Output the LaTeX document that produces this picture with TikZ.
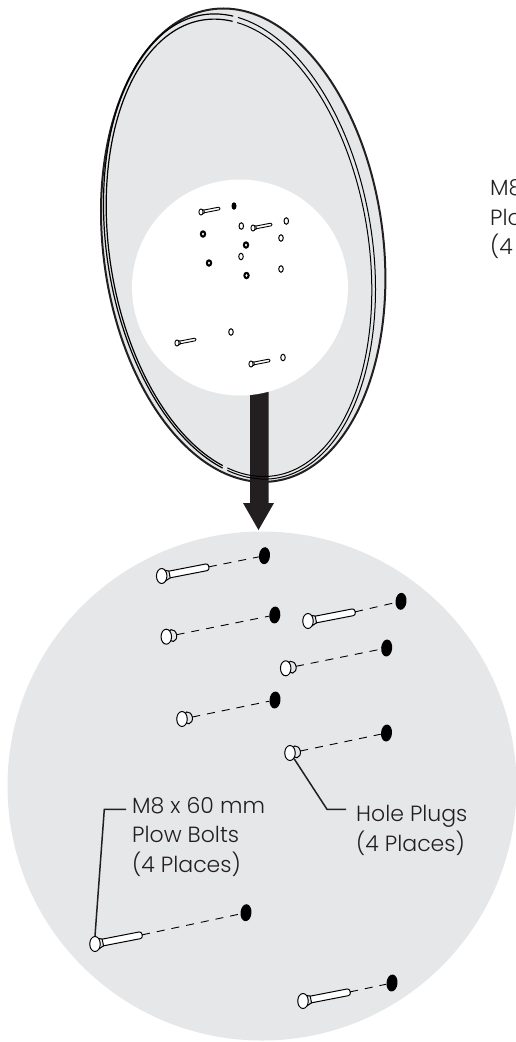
\documentclass[tikz,border=0pt]{standalone}
\usepackage{fontspec}
\setmainfont{Poppins Light}
\usetikzlibrary{shapes.geometric}
\definecolor{ink}{HTML}{231F20}
\definecolor{pale}{HTML}{E6E7E8}
\tikzset{
  lbl/.style={text=ink,font=\fontsize{22}{29.5}\selectfont,align=left,anchor=north west,inner sep=0pt},
  leader/.style={draw=ink,line width=1.5pt},
  dashline/.style={draw=black,line width=0.9pt,dash pattern=on 8pt off 7pt},
  rimline/.style={draw=black,line width=1pt},
  rimheavy/.style={draw=black,line width=1.2pt},
  dotn/.style={shape=ellipse,fill=black,draw=none,inner sep=0pt,minimum width=11pt,minimum height=17pt,rotate=-5},
  headn/.style={shape=ellipse,fill=white,draw=black,line width=1pt,inner sep=0pt,minimum width=10.5pt,minimum height=15pt},
  openn/.style={shape=ellipse,fill=white,draw=black,line width=1pt,inner sep=0pt,minimum width=4.5pt,minimum height=6.5pt},
  ringn/.style={shape=ellipse,fill=black,draw=none,inner sep=0pt,minimum width=6.5pt,minimum height=7.5pt},
}
% name, x, y
\newcommand{\RingItem}[3]{%
  \node[ringn] (#1) at (#2,#3) {};
  \fill[white] (#1) ellipse [x radius=1.1pt,y radius=1.5pt];}
% name, x, y, scale, line width
\newcommand{\BoltItem}[5]{%
  \begin{scope}[shift={(#2,#3)},rotate=11,x=#4pt,y=#4pt]
    \filldraw[fill=white,draw=black,line width=#5pt,rounded corners=#4*2.5pt] (4,3.4) -- (48,3.4) -- (48,-3.4) -- (4,-3.4) -- cycle;
    \filldraw[fill=pale,draw=black,line width=#5pt] (3,5.5) -- (8,3.4) -- (8,-3.4) -- (3,-5.5) -- cycle;
    \node[shape=ellipse,fill=white,draw=black,line width=#5pt,inner sep=0pt,minimum width=#4*10.5pt,minimum height=#4*15pt] (#1) at (0,0) {};
    \coordinate (#1tip) at (48,0);
  \end{scope}}
% name, x, y
\newcommand{\PlugItem}[3]{%
  \begin{scope}[shift={(#2,#3)},rotate=11,x=1pt,y=1pt]
    \filldraw[fill=pale,draw=black,line width=1pt] (6,0) ellipse [x radius=4.5pt,y radius=6pt];
    \node[headn] (#1) at (0,0) {};
    \coordinate (#1tip) at (10.5,0);
  \end{scope}}
\begin{document}
\begin{tikzpicture}[x=1pt,y=-1pt]
\useasboundingbox (0,0) rectangle (516,1042);
\clip (0,0) rectangle (516,1042);
% dish face
\begin{scope}[shift={(243.2,245.2)},rotate=7.4,x=1pt,y=1pt]
  \fill[pale] (0,0) ellipse [x radius=140pt,y radius=238pt];
\end{scope}
% arrow
\fill[ink] (250,385) -- (268.5,385) -- (268.5,503) -- (274,503) -- (258.5,530) -- (243,503) -- (250,503) -- cycle;
% dish outlines
\begin{scope}[shift={(243.2,245.2)},rotate=7.4,x=1pt,y=1pt]
  \draw[draw=ink,line width=2pt] (0,0) ellipse [x radius=140pt,y radius=238pt];
\end{scope}
\begin{scope}[shift={(239.5,246.5)},rotate=9,x=1pt,y=1pt]
  \draw[rimheavy] ({132.6*cos(77)},{234.5*sin(77)}) arc [start angle=77,end angle=247.2,x radius=132.6pt,y radius=234.5pt];
  \draw[rimline] ({132.6*cos(249.2)},{234.5*sin(249.2)}) arc [start angle=249.2,end angle=435,x radius=132.6pt,y radius=234.5pt];
\end{scope}
\begin{scope}[shift={(239,247.8)},rotate=9,x=1pt,y=1pt]
  \draw[rimheavy] ({129.4*cos(77)},{230.6*sin(77)}) arc [start angle=77,end angle=247.2,x radius=129.4pt,y radius=230.6pt];
  \draw[rimline] ({129.4*cos(249.2)},{230.6*sin(249.2)}) arc [start angle=249.2,end angle=435,x radius=129.4pt,y radius=230.6pt];
\end{scope}
% mounting window
\fill[white] (240,287.5) circle [radius=108pt];
% small hardware
\BoltItem{sa}{201}{212}{0.4}{0.9}
\BoltItem{sb}{253}{228}{0.4}{0.9}
\BoltItem{sc}{177}{343}{0.4}{0.9}
\BoltItem{sd}{251}{364}{0.4}{0.9}
\node[shape=ellipse,fill=black,inner sep=0pt,minimum width=5pt,minimum height=7.5pt] (ka) at (234,206) {};
\RingItem{ra}{203}{234}
\RingItem{rb}{246}{245}
\RingItem{rc}{209}{263}
\RingItem{rd}{246.5}{275.5}
\node[openn] (oa) at (241.3,226) {};
\node[openn] (ob) at (286.3,221) {};
\node[openn] (oc) at (281,238) {};
\node[openn] (od) at (241,256.5) {};
\node[openn] (oe) at (281,269) {};
\node[openn] (of) at (231,332) {};
\node[openn] (og) at (283,357.5) {};
% detail circle
\fill[pale] (262,786) circle [radius=254.5pt];
\node[dotn] (d1) at (264.5,555.7) {};
\node[dotn] (d2) at (274.8,615) {};
\node[dotn] (d3) at (401,601.3) {};
\node[dotn] (d4) at (386.7,648) {};
\node[dotn] (d5) at (275,700) {};
\node[dotn] (d6) at (386.5,733) {};
\node[dotn] (d7) at (246,912.7) {};
\node[dotn] (d8) at (392,983) {};
\BoltItem{b1}{161.7}{576}{1}{1}
\BoltItem{b2}{308}{621}{1}{1}
\BoltItem{b3}{95}{944}{1}{1}
\BoltItem{b4}{303}{1001}{1}{1}
\PlugItem{p1}{166.3}{636.7}
\PlugItem{p2}{285.7}{668.3}
\PlugItem{p3}{182}{719}
\PlugItem{p4}{290}{753}
\draw[dashline] (b1tip) -- (d1);
\draw[dashline] (p1tip) -- (d2);
\draw[dashline] (b2tip) -- (d3);
\draw[dashline] (p2tip) -- (d4);
\draw[dashline] (p3tip) -- (d5);
\draw[dashline] (p4tip) -- (d6);
\draw[dashline] (b3tip) -- (d7);
\draw[dashline] (b4tip) -- (d8);
% labels
\node[lbl] (boltlabel) at (132,797) {M8 x 60 mm\\Plow Bolts\\(4 Places)};
\node[lbl] (pluglabel) at (356,805.5) {Hole Plugs\\(4 Places)};
\node[lbl] (cutlabel) at (490,179.5) {M8 x 60 mm\\Plow Bolts\\(4 Places)};
\coordinate (bk) at (104.3,809.3);
\coordinate (be) at (126,809.3);
\coordinate (pk) at (327,809.3);
\coordinate (pe) at (346,809.3);
\draw[leader] (b3.north) -- (bk) -- (be);
\draw[leader] (p4.south east) -- (pk) -- (pe);
\end{tikzpicture}
\end{document}
